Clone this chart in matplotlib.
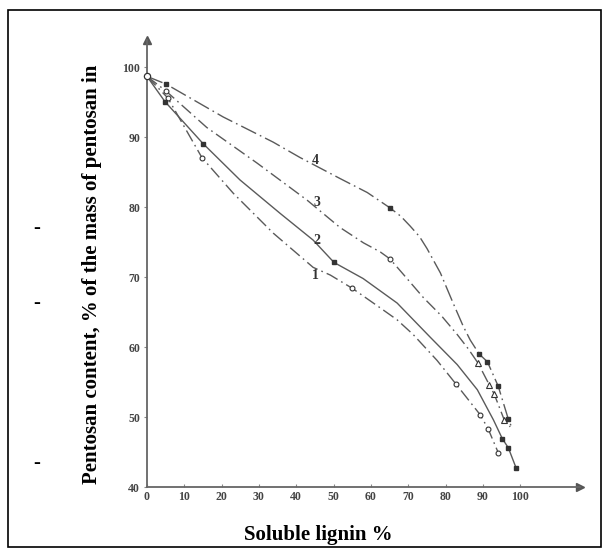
import numpy as np
import matplotlib
matplotlib.use('Agg')
import matplotlib.pyplot as plt
from matplotlib.patches import Rectangle

# curve vertices (x = soluble lignin %, y = pentosan %)
c1_x = [0, 5.6, 14.7, 23.1, 33.8, 44.5, 49.1, 55, 62.5, 67, 71.3, 77.7, 82.8, 89.3, 91.4, 94.1]
c1_y = [98.7, 95.6, 87.1, 82.0, 76.3, 71.4, 70.3, 68.4, 65.6, 63.9, 61.8, 58.1, 54.7, 50.3, 48.3, 44.9]
c2_x = [0, 4.8, 15, 24.9, 35.7, 44.5, 50.1, 57.9, 67, 75.9, 83.1, 88.5, 92.8, 95.2, 96.8, 98.9]
c2_y = [98.7, 95.1, 89.1, 83.9, 79.1, 75.3, 72.1, 69.8, 66.3, 61.4, 57.5, 53.9, 49.6, 46.9, 45.6, 42.7]
c3_x = [0, 5.1, 16, 29.5, 42.9, 51.7, 58, 62.5, 65.1, 69, 74, 79, 83.1, 86, 88.7, 91.7, 93, 95.7, 97.3]
c3_y = [98.7, 96.6, 91.4, 86.3, 81.0, 77.1, 74.9, 73.6, 72.6, 70.2, 67.1, 64.4, 61.8, 59.8, 57.7, 54.6, 53.3, 49.6, 48.6]
c4_x = [0, 5.1, 20.4, 33.8, 41, 51.7, 59, 65.1, 68, 70.5, 73, 75, 78.6, 82, 84.7, 86.6, 89, 91.2, 94.1, 96.8, 97.5]
c4_y = [98.7, 97.6, 92.9, 89.3, 87.1, 84.1, 82.1, 79.9, 78.7, 77.3, 75.8, 74.1, 70.6, 66.3, 63.0, 61.0, 59.0, 57.9, 54.4, 49.7, 48.8]

# measured points
m1_x = [5.6, 14.7, 55, 82.8, 89.3, 91.4, 94.1]
m1_y = [95.6, 87.1, 68.4, 54.7, 50.3, 48.3, 44.9]
m2_x = [4.8, 15, 50.1, 95.2, 96.8, 98.9]
m2_y = [95.1, 89.1, 72.1, 46.9, 45.6, 42.7]
m3o_x = [5.1, 65.1]
m3o_y = [96.6, 72.6]
m3t_x = [88.7, 91.7, 93, 95.7]
m3t_y = [57.7, 54.6, 53.3, 49.6]
m4_x = [5.1, 65.1, 89, 91.2, 94.1, 96.8]
m4_y = [97.6, 79.9, 59.0, 57.9, 54.4, 49.7]
start_x, start_y = 0, 98.7

curve_labels = ['1', '2', '3', '4']
label_x = [45, 45.5, 45.5, 45]
label_y = [70.3, 75.3, 80.7, 86.7]

x_ticks = list(range(0, 101, 10))
y_ticks = list(range(40, 101, 10))

line_col = '#5a5a5a'
dashdot = (0, (9, 3, 1.2, 3))

fig = plt.figure(figsize=(6.09, 5.55), dpi=100)
ax = fig.add_axes([147/609, 68/555, 433/609, 447/555])
ax.set_xlim(0, 116)
ax.set_ylim(40, 103.9)

ax.plot(c1_x, c1_y, color=line_col, lw=1, linestyle=dashdot)
ax.plot(c2_x, c2_y, color=line_col, lw=1)
ax.plot(c3_x, c3_y, color=line_col, lw=1, linestyle=dashdot)
ax.plot(c4_x, c4_y, color=line_col, lw=1, linestyle=(0, (12, 3, 1.2, 3)))

ax.plot(m1_x, m1_y, 'o', ms=3.5, mfc='white', mec='#333', mew=0.8, zorder=3)
ax.plot(m2_x, m2_y, 's', ms=3.2, color='#333', zorder=3)
ax.plot(m3o_x, m3o_y, 'o', ms=3.5, mfc='white', mec='#333', mew=0.8, zorder=3)
ax.plot(m3t_x, m3t_y, '^', ms=5, mfc='white', mec='#333', mew=0.8, zorder=3)
ax.plot(m4_x, m4_y, 's', ms=3.2, color='#333', zorder=3)
ax.plot([start_x], [start_y], 'o', ms=4.5, mfc='white', mec='#333', mew=0.9, zorder=4, clip_on=False)

for t, lx, ly in zip(curve_labels, label_x, label_y):
    ax.text(lx, ly, t, family='Liberation Serif', fontweight='bold', fontsize=10,
            color='#333', ha='center', va='center')

for s in ['top', 'right']:
    ax.spines[s].set_visible(False)
for s in ['left', 'bottom']:
    ax.spines[s].set_color('#666')
    ax.spines[s].set_linewidth(1.3)
ax.plot(0, 1, '^', ms=6, color='#555', transform=ax.transAxes, clip_on=False)
ax.plot(1, 0, '>', ms=6, color='#555', transform=ax.transAxes, clip_on=False)

ax.set_xticks(x_ticks)
ax.set_yticks(y_ticks)
ax.set_xticklabels([str(v) for v in x_ticks])
ax.set_yticklabels([str(v) for v in y_ticks])
ax.tick_params(axis='x', direction='in', length=2, color='#888', pad=3, labelsize=8.5, labelcolor='#444')
ax.tick_params(axis='y', direction='out', length=2, color='#888', pad=3, labelsize=8.5, labelcolor='#444')
for lab in ax.get_xticklabels() + ax.get_yticklabels():
    lab.set_family('Liberation Serif')
    lab.set_fontweight('bold')

fig.text(92/609, 0.505, 'Pentosan content, % of the mass of pentosan in', rotation=90,
         family='Liberation Serif', fontweight='bold', fontsize=15, ha='center', va='center')
fig.text(318/609, 20/555, 'Soluble lignin %', family='Liberation Serif',
         fontweight='bold', fontsize=15, ha='center', va='center')
for py in [228, 303, 463]:
    fig.text(37/609, 1 - py/555, '-', family='Liberation Serif', fontweight='bold',
             fontsize=15, ha='center', va='center')

fig.patches.append(Rectangle((8/609, 8/555), 593/609, 537/555, transform=fig.transFigure,
                             fill=False, edgecolor='black', lw=1.2))

fig.savefig('out.png', dpi=100)
